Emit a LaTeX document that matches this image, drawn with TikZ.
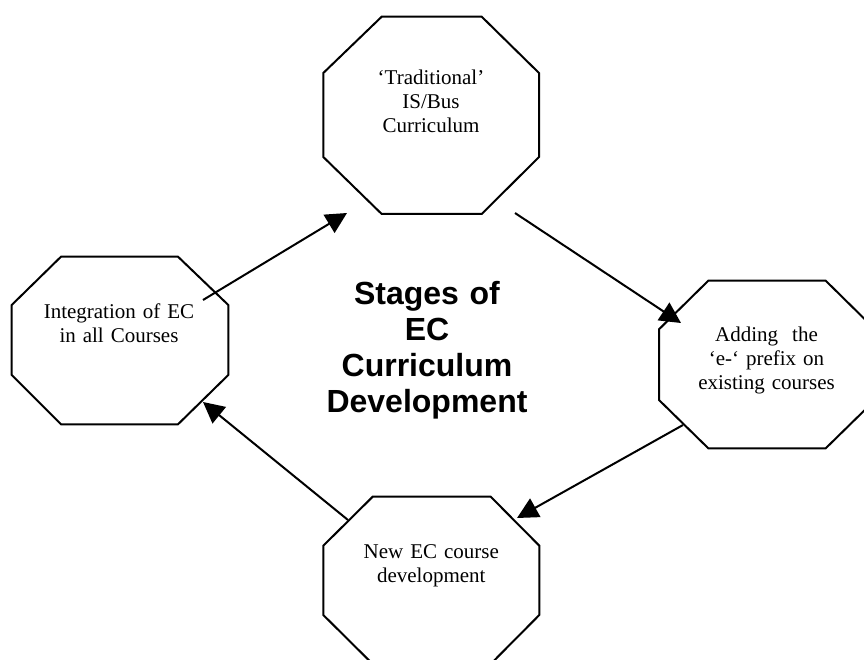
\documentclass[tikz,border=0pt]{standalone}
\usepackage{fontspec}
\setmainfont{Liberation Serif}
\newfontfamily\titlesans{Liberation Sans}
\usetikzlibrary{arrows.meta}

\tikzset{
  stage/.style={text width=210pt, align=center, inner sep=0pt, anchor=base,
    font=\fontsize{21}{24}\selectfont},
  octa/.style={line width=2pt, line join=miter},
  flow/.style={line width=2pt, -{Triangle[length=21pt,width=21pt]}}
}

\begin{document}
\begin{tikzpicture}[x=1pt,y=-1pt]
        \useasboundingbox (0,0) rectangle (864,660);
        \clip (0,0) rectangle (864,660);

        \draw[octa] (381.7,16.7) -- (481.7,16.7) -- (539,73) -- (539,157) -- (481.7,214) -- (381.7,214) -- (323.3,157) -- (323.3,73) -- cycle;
        \draw[octa] (61,256.7) -- (178,256.7) -- (228.3,305) -- (228.3,375) -- (178,424.3) -- (61,424.3) -- (11.7,375) -- (11.7,305) -- cycle;
        \draw[octa] (708.3,280.7) -- (825.7,280.7) -- (875,329.3) -- (875,400) -- (825.7,448.3) -- (708.3,448.3) -- (659,400) -- (659,329.3) -- cycle;
        \draw[octa] (372.7,496.7) -- (490.7,496.7) -- (539.3,545.7) -- (539.3,615) -- (490.7,664) -- (372.7,664) -- (323.3,615) -- (323.3,545.7) -- cycle;

        \node[stage] (trad) at (431,85) {‘Traditional’\\IS/Bus\\Curriculum};
        \node[stage] (eprefix) at (766.5,341.7) {Adding~~the\\‘e-‘ prefix on\\existing courses};
        \node[stage] (newcourse) at (431.3,558.3) {New EC course\\development};
        \node[stage] (integ) at (119,318.3) {Integration of EC\\in all Courses};
        \node[stage, text width=260pt, font=\titlesans\bfseries\fontsize{32}{36.3}\selectfont] (title) at (427,304) {Stages of\\EC\\Curriculum\\Development};

        \coordinate (integout) at (203,300);
        \coordinate (tradin) at (347,213);
        \coordinate (tradout) at (515,213);
        \coordinate (eprefixin) at (681,323);
        \coordinate (eprefixout) at (683,425);
        \coordinate (newcoursein) at (517,518);
        \coordinate (newcourseout) at (348,520);
        \coordinate (integin) at (203,402);

        \draw[flow] (integout) -- (tradin);
        \draw[flow] (tradout) -- (eprefixin);
        \draw[flow] (eprefixout) -- (newcoursein);
        \draw[flow] (newcourseout) -- (integin);
    \end{tikzpicture}
\end{document}
